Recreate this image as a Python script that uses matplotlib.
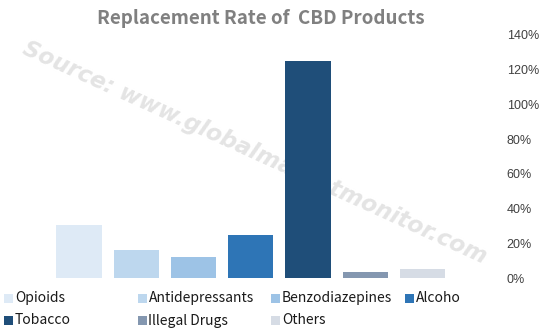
import matplotlib
matplotlib.use('Agg')
import matplotlib.pyplot as plt
from matplotlib.patches import Rectangle
from matplotlib.ticker import PercentFormatter

plt.rcParams['font.family'] = ['Noto Sans CJK SC', 'DejaVu Sans']

# 各类替代品的替代率
categories = ['Opioids', 'Antidepressants', 'Benzodiazepines', 'Alcoho',
              'Tobacco', 'Illegal Drugs', 'Others']
rates = [30.5, 16, 12, 25, 125, 3.5, 5.5]
colors = ['#DEEAF6', '#BDD7EE', '#9DC3E6', '#2E75B6', '#1F4E79', '#8497B0', '#D6DCE5']
yticks = [0, 20, 40, 60, 80, 100, 120, 140]

W, H = 543, 333
fig = plt.figure(figsize=(W / 100, H / 100), dpi=100)
ax = fig.add_axes([0.074, 0.165, 0.78, 0.73])

x = range(len(categories))
ax.bar(x, rates, width=0.79, color=colors, zorder=2)

ax.set_xlim(-0.68, 6.72)
ax.set_ylim(0, 140)
ax.set_yticks(yticks)
ax.yaxis.set_major_formatter(PercentFormatter(decimals=0))
ax.yaxis.tick_right()
ax.tick_params(axis='y', length=0, pad=31, labelsize=9, labelcolor='#404040')
for lbl in ax.get_yticklabels():
    lbl.set_horizontalalignment('left')
    lbl.set_fontfamily(['Liberation Sans', 'DejaVu Sans'])
ax.set_xticks([])
for s in ax.spines.values():
    s.set_visible(False)

# 标题
fig.text(0.481, 0.945, 'Replacement Rate of  CBD Products', ha='center', va='center',
         fontsize=13.5, fontweight='bold', color='#808080')

# 水印（在柱子后面）
ax.text(0.47, 0.54, 'Source: www.globalmarketmonitor.com', transform=fig.transFigure,
        ha='center', va='center', rotation=-24.5, rotation_mode='anchor',
        fontsize=16.5, fontweight='bold', style='italic',
        color='#E4E4E4', family='DejaVu Sans', zorder=0)

# 图例：两行，每行四列
for i, (name, c) in enumerate(zip(categories, colors)):
    row, col = divmod(i, 4)
    lx = 4 + col * 133.5
    ly = 298 + row * 22.5
    fig.patches.append(Rectangle((lx / W, (H - ly - 4.5) / H), 9 / W, 9 / H,
                                 transform=fig.transFigure, facecolor=c,
                                 edgecolor='none', figure=fig))
    fig.text((lx + 11) / W, (H - ly) / H, name, ha='left', va='center',
             fontsize=10, color='#1A1A1A')

fig.savefig('out.png', dpi=100)
